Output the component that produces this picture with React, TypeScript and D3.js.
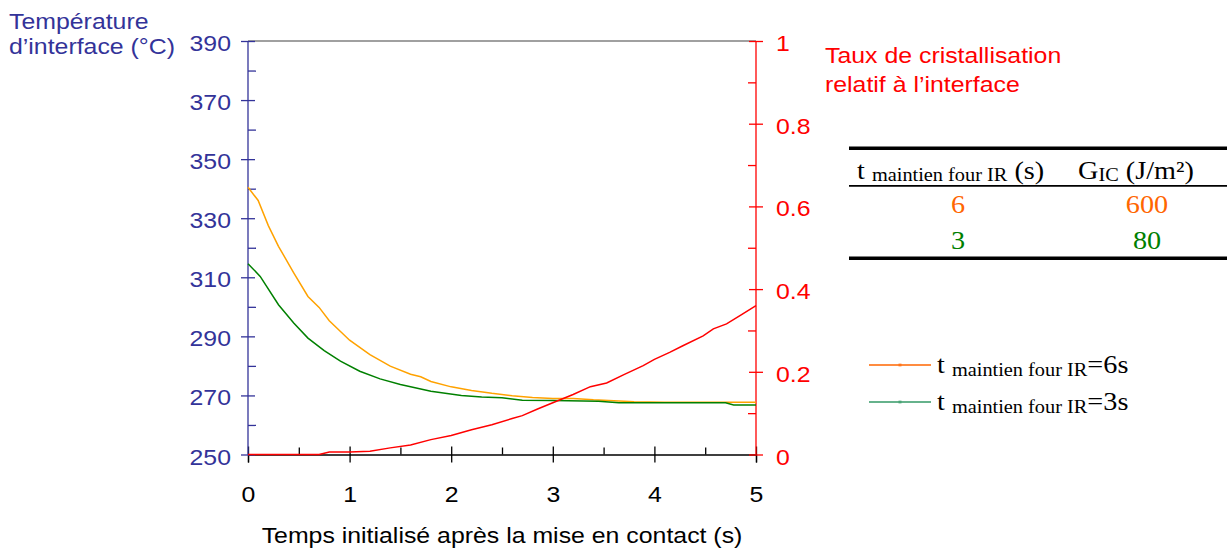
import React, { useEffect, useRef } from 'react';
import * as d3 from 'd3';

// temperature at the interface, IR oven hold time 6 s  [time (s), °C]
const orange6s: [number, number][] = [
  [0, 340.5], [0.1, 336], [0.2, 327.5], [0.3, 320.5], [0.45, 311.5], [0.59, 303.5],
  [0.7, 299.8], [0.8, 295.3], [1.0, 288.7], [1.2, 283.8], [1.4, 279.9], [1.6, 277.2],
  [1.7, 276.3], [1.8, 274.7], [2.0, 272.9], [2.2, 271.7], [2.4, 270.7], [2.6, 269.9],
  [2.8, 269.3], [3.0, 269], [3.2, 269], [3.4, 268.5], [3.6, 268.2], [3.8, 267.9],
  [4.1, 267.7], [4.5, 267.7], [5.0, 267.7],
];

// IR oven hold time 3 s
const green3s: [number, number][] = [
  [0, 314.6], [0.12, 310.3], [0.3, 300.7], [0.45, 294.5], [0.59, 289.4], [0.75, 285.2],
  [0.91, 281.6], [1.1, 278.2], [1.3, 275.6], [1.5, 273.7], [1.8, 271.4], [2.1, 270],
  [2.3, 269.5], [2.5, 269.2], [2.7, 268.4], [3.0, 268.3], [3.45, 268], [3.65, 267.5],
  [4.0, 267.5], [4.7, 267.5], [4.78, 266.8], [5.0, 266.8],
];

// relative crystallisation rate at the interface (right axis)
const crystal: [number, number][] = [
  [0, 0], [0.7, 0], [0.8, 0.006], [1.0, 0.006], [1.2, 0.008], [1.4, 0.016], [1.6, 0.023],
  [1.8, 0.036], [2.0, 0.046], [2.2, 0.06], [2.4, 0.072], [2.6, 0.087], [2.7, 0.094],
  [2.85, 0.11], [3.0, 0.125], [3.2, 0.145], [3.37, 0.164], [3.53, 0.173], [3.7, 0.193],
  [3.89, 0.215], [4.0, 0.23], [4.15, 0.247], [4.28, 0.263], [4.48, 0.287], [4.58, 0.304],
  [4.71, 0.316], [4.85, 0.337], [5.0, 0.36],
];

const xTicks = [0, 1, 2, 3, 4, 5];
const xMinor = [0.5, 1.5, 2.5, 3.5, 4.5];
const leftTicks = [250, 270, 290, 310, 330, 350, 370, 390];
const leftMinor = [260, 280, 300, 320, 340, 360, 380];
const rightTicks = [0, 0.2, 0.4, 0.6, 0.8, 1];
const rightMinor = [0.1, 0.3, 0.5, 0.7, 0.9];

const tableRows = [
  { hold: '6', gic: '600', color: '#ff6600' },
  { hold: '3', gic: '80', color: '#008000' },
];

const SANS = '"Liberation Sans", Arial, sans-serif';
const SERIF = '"Liberation Serif", "Times New Roman", serif';
const SX = 1.13; // the source picture is a bit wider than tall
const NAVY = '#333399';

const W = 1227;
const H = 548;
const L = 248;
const R = 756;
const T = 41;
const B = 454.5;

export default function App() {
  const axRef = useRef<SVGGElement | null>(null);

  const x = d3.scaleLinear().domain([0, 5]).range([L, R]);
  const yL = d3.scaleLinear().domain([250, 390]).range([B, T]);
  const yR = d3.scaleLinear().domain([0, 1]).range([B, T]);

  useEffect(() => {
    if (!axRef.current) return;
    const g = d3.select(axRef.current);
    g.selectAll('*').remove();

    const styleText = (sel: any, color: string, anchor: string, dx: number, dy: number) => {
      sel.selectAll('text')
        .attr('fill', color)
        .attr('font-family', SANS)
        .attr('font-size', 22)
        .attr('text-anchor', anchor)
        .attr('x', dx / SX)
        .attr('y', dy)
        .attr('dy', null)
        .attr('transform', `scale(${SX},1)`);
    };

    // bottom axis
    const bx = g.append('g').attr('transform', `translate(0,${B})`)
      .call(d3.axisBottom(x).tickValues(xTicks).tickSize(8).tickFormat(d3.format('d')));
    bx.select('.domain').attr('stroke', '#000').attr('stroke-width', 1.3);
    bx.selectAll('line').attr('y1', -8).attr('stroke', '#000').attr('stroke-width', 1.3);
    styleText(bx, '#000', 'middle', 0, 48);
    g.append('g').attr('transform', `translate(0,${B})`)
      .call(d3.axisBottom(x).tickValues(xMinor).tickSize(-7).tickFormat(() => ''))
      .call((s) => s.select('.domain').remove())
      .selectAll('line').attr('stroke', '#000').attr('stroke-width', 1.3);

    // left axis
    const lx = g.append('g').attr('transform', `translate(${L},0)`)
      .call(d3.axisLeft(yL).tickValues(leftTicks).tickSize(7).tickFormat(d3.format('d')));
    lx.select('.domain').attr('stroke', NAVY).attr('stroke-width', 1.3).attr('d', `M0,${T}V${B}`);
    lx.selectAll('line').attr('x1', 7).attr('stroke', NAVY).attr('stroke-width', 1.3);
    styleText(lx, NAVY, 'end', -17, 9.5);
    g.append('g').attr('transform', `translate(${L},0)`)
      .call(d3.axisLeft(yL).tickValues(leftMinor).tickSize(-8).tickFormat(() => ''))
      .call((s) => s.select('.domain').remove())
      .selectAll('line').attr('stroke', NAVY).attr('stroke-width', 1.3);

    // right axis
    const rx = g.append('g').attr('transform', `translate(${R},0)`)
      .call(d3.axisRight(yR).tickValues(rightTicks).tickSize(7)
        .tickFormat((d) => (d === 0 || d === 1 ? String(d) : d3.format('.1f')(d as number))));
    rx.select('.domain').attr('stroke', '#ff0000').attr('stroke-width', 1.3).attr('d', `M0,${T}V${B}`);
    rx.selectAll('line').attr('x1', -7).attr('stroke', '#ff0000').attr('stroke-width', 1.3);
    styleText(rx, '#ff0000', 'start', 20, 9.5);
    g.append('g').attr('transform', `translate(${R},0)`)
      .call(d3.axisRight(yR).tickValues(rightMinor).tickSize(-8).tickFormat(() => ''))
      .call((s) => s.select('.domain').remove())
      .selectAll('line').attr('stroke', '#ff0000').attr('stroke-width', 1.3);
  }, []);

  const lineL = d3.line<[number, number]>().x((d) => x(d[0])).y((d) => yL(d[1]));
  const lineR = d3.line<[number, number]>().x((d) => x(d[0])).y((d) => yR(d[1]));

  const txt = (px: number, py: number, children: React.ReactNode, props: any = {}) => (
    <text transform={`translate(${px},${py}) scale(${SX},1)`} {...props}>{children}</text>
  );

  return (
    <svg width={W} height={H} style={{ position: 'absolute', left: 0, top: 0, background: '#fff' }}>
      {/* top frame line */}
      <line x1={L} x2={R} y1={T} y2={T} stroke="#808080" strokeWidth={1.3} />
      <g ref={axRef} />

      <path d={lineL(orange6s) || ''} fill="none" stroke="#ffa200" strokeWidth={1.5} />
      <path d={lineL(green3s) || ''} fill="none" stroke="#008000" strokeWidth={1.5} />
      <path d={lineR(crystal) || ''} fill="none" stroke="#ff0000" strokeWidth={1.5} />

      {/* axis titles */}
      <g fontFamily={SANS} fontSize={22} fill={NAVY}>
        {txt(9, 29, 'Température')}
        {txt(9, 54, 'd\u2019interface (°C)')}
      </g>
      <g fontFamily={SANS} fontSize={22} fill="#ff0000">
        {txt(825, 63, 'Taux de cristallisation')}
        {txt(825, 92, 'relatif à l\u2019interface')}
      </g>
      <g fontFamily={SANS} fontSize={22} fill="#000">
        {txt(502, 543, 'Temps initialisé après la mise en contact (s)', { textAnchor: 'middle' })}
      </g>

      {/* table */}
      <line x1={849} x2={W} y1={148.3} y2={148.3} stroke="#000" strokeWidth={3.4} />
      <line x1={849} x2={W} y1={185.8} y2={185.8} stroke="#000" strokeWidth={1.8} />
      <line x1={849} x2={W} y1={258.3} y2={258.3} stroke="#000" strokeWidth={3.4} />
      <g fontFamily={SERIF} fontSize={25} fill="#000">
        {txt(857, 179, <>
          <tspan>t </tspan>
          <tspan fontSize={18} dy={2}>maintien four IR</tspan>
          <tspan dy={-2}> (s)</tspan>
        </>)}
        {txt(1078, 179, <>
          <tspan>G</tspan>
          <tspan fontSize={18} dy={2}>IC</tspan>
          <tspan dy={-2}> (J/m²)</tspan>
        </>)}
      </g>
      <g fontFamily={SERIF} fontSize={25}>
        {tableRows.map((r, i) => (
          <g key={r.hold} fill={r.color}>
            {txt(958, 213 + i * 36, r.hold, { textAnchor: 'middle' })}
            {txt(1147, 213 + i * 36, r.gic, { textAnchor: 'middle' })}
          </g>
        ))}
      </g>

      {/* legend */}
      {[
        { label: '6s', color: '#ff6600', y: 365 },
        { label: '3s', color: '#339966', y: 402 },
      ].map((l) => (
        <g key={l.label}>
          <line x1={869} x2={931} y1={l.y} y2={l.y} stroke={l.color} strokeWidth={1.5} />
          <rect x={898.5} y={l.y - 1.5} width={3} height={3} fill={l.color} opacity={0.6} />
          <g fontFamily={SERIF} fontSize={25} fill="#000">
            {txt(937, l.y + 8, <>
              <tspan>t </tspan>
              <tspan fontSize={18} dy={3}>maintien four IR</tspan>
              <tspan dy={-3}>={l.label}</tspan>
            </>)}
          </g>
        </g>
      ))}
    </svg>
  );
}
